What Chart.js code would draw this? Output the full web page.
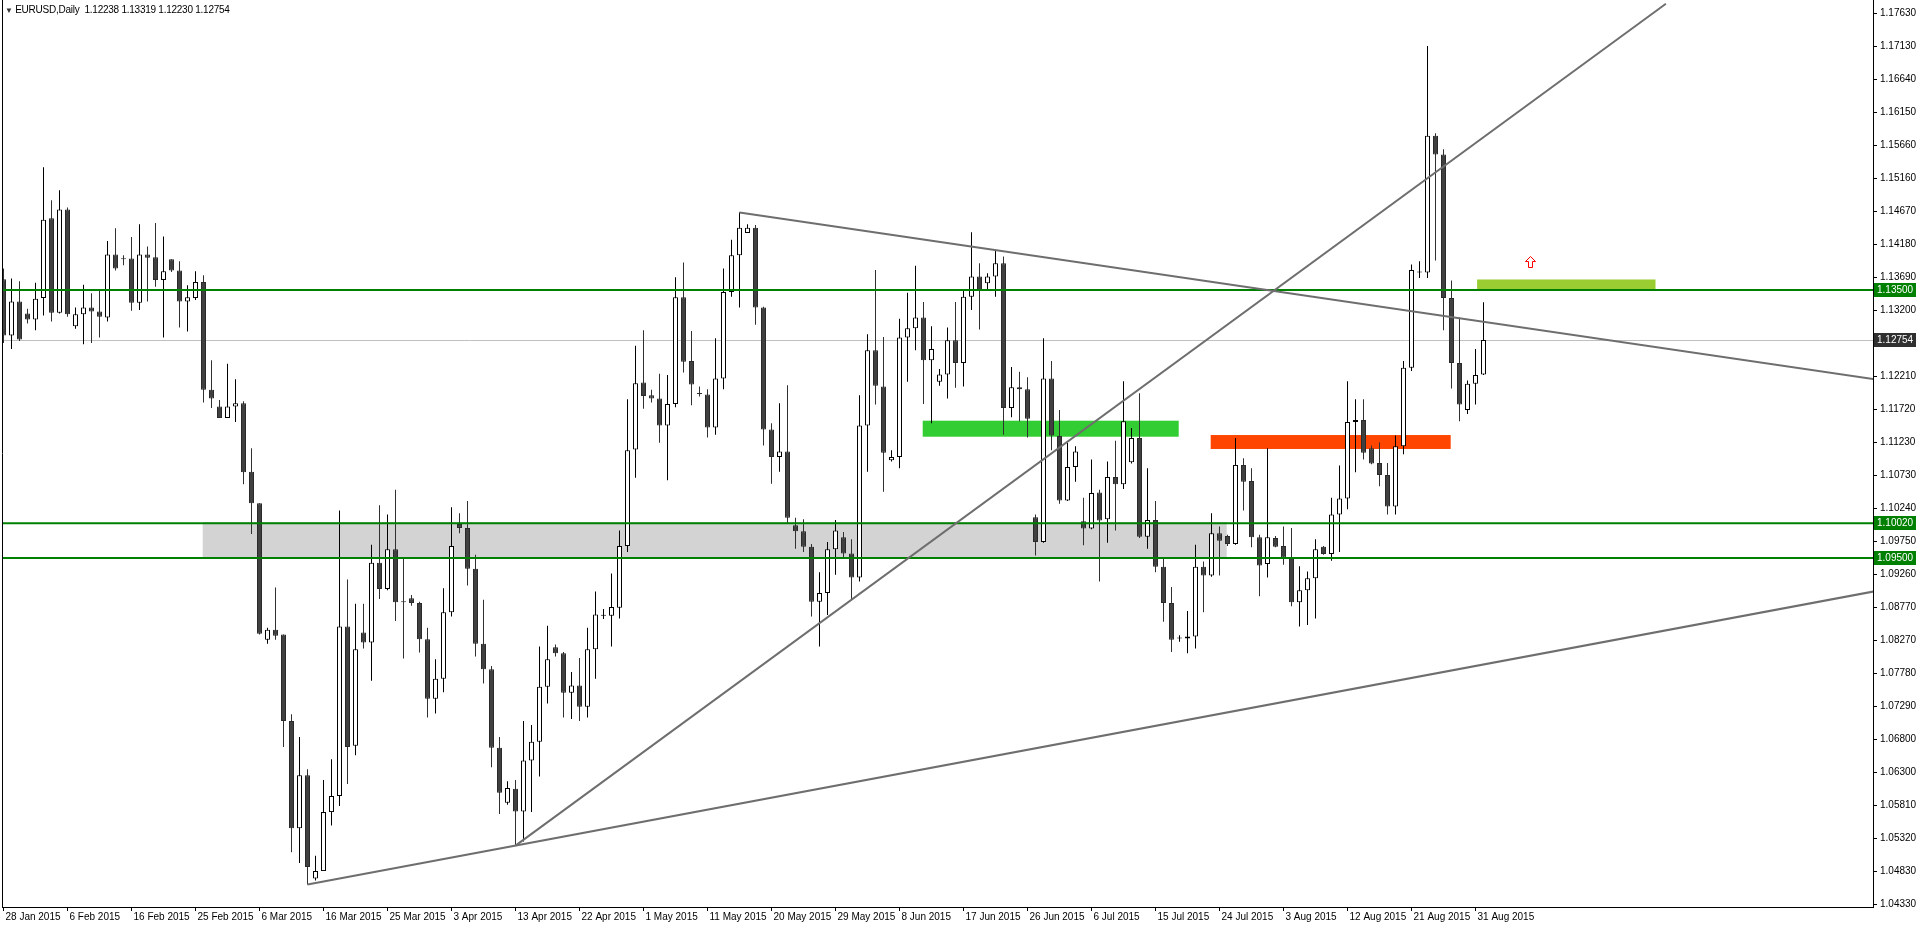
<!DOCTYPE html>
<html>
<head>
<meta charset="utf-8">
<script src="https://cdn.jsdelivr.net/npm/chart.js@4.4.0/dist/chart.umd.min.js"></script>
<style>
  html, body { margin: 0; padding: 0; background: #fff; overflow: hidden; }
  #wrap { position: relative; width: 1916px; height: 925px; }
  #title { position: absolute; left: 5px; top: 4px; font: 10px 'Liberation Sans', Arial, sans-serif; letter-spacing: -0.25px; color: #000; white-space: pre; }
  #title .tri { font-size: 8px; color: #333; }
</style>
</head>
<body>
<div id="wrap">
  <canvas id="chart" width="1916" height="925"></canvas>
  <div id="title"><span class="tri">▼</span> EURUSD,Daily  1.12238 1.13319 1.12230 1.12754</div>
</div>
<script>
// daily bars, index 0 = 28 Jan 2015 (broker has short Sunday bars)
const opens = [
  1.1366,1.1282,1.1333,1.1315,1.1306,1.1338,1.1457,1.1316,1.1470,1.1296,
  1.1314,1.1324,1.1318,1.1309,1.1403,1.1397,1.1397,1.1331,1.1403,1.1399,
  1.1365,1.1396,1.1379,1.1333,1.1338,1.1362,1.1201,1.1176,1.1159,1.1176,
  1.1181,1.1079,1.1032,1.0828,1.0843,1.0836,1.0707,1.0547,1.0626,1.0472,
  1.0483,1.0571,1.0595,1.0848,1.0670,1.0839,1.0824,1.0943,1.0904,1.0963,
  1.0885,1.0890,1.0883,1.0829,1.0740,1.0770,1.0869,1.1001,1.0995,1.0934,
  1.0822,1.0784,1.0667,1.0585,1.0606,1.0572,1.0648,1.0676,1.0758,1.0817,
  1.0808,1.0749,1.0760,1.0728,1.0814,1.0864,1.0864,1.0876,1.0968,1.1112,
  1.1212,1.1193,1.1188,1.1148,1.1180,1.1339,1.1244,1.1196,1.1194,1.1145,
  1.1218,1.1347,1.1402,1.1435,1.1443,1.1324,1.1142,1.1101,1.1109,1.0999,
  1.0990,1.0967,1.0885,1.0898,1.0963,1.0981,1.0957,1.0921,1.1148,1.1260,
  1.1206,1.1096,1.1101,1.1279,1.1293,1.1309,1.1245,1.1213,1.1224,1.1275,
  1.1241,1.1340,1.1370,1.1360,1.1370,1.1390,1.1174,1.1205,1.1202,1.1011,
  1.0974,1.1218,1.1132,1.1036,1.1086,1.1005,1.0994,1.1048,1.1008,1.1071,
  1.1060,1.1093,1.1129,1.0982,1.1007,1.0937,1.0883,1.0830,1.0830,1.0833,
  1.0937,1.0924,1.0987,1.0983,1.0971,1.1089,1.1065,1.0981,1.0941,1.0980,
  1.0968,1.0950,1.0884,1.0902,1.0920,1.0967,1.0956,1.1015,1.1039,1.1153,
  1.1156,1.1114,1.1092,1.1074,1.1027,1.1117,1.1234,1.1376,1.1376,1.1580,
  1.1552,1.1338,1.1241,1.1171,1.1210,1.12238
];
const highs = [
  1.1382,1.1367,1.1363,1.1322,1.1361,1.1533,1.1484,1.1499,1.1473,1.1324,
  1.1358,1.1345,1.1351,1.1423,1.1442,1.1402,1.1429,1.1448,1.1415,1.1450,
  1.1430,1.1396,1.1393,1.1357,1.1378,1.1372,1.1245,1.1186,1.1240,1.1217,
  1.1184,1.1114,1.1032,1.0846,1.0906,1.0836,1.0717,1.0683,1.0635,1.0506,
  1.0619,1.0650,1.1021,1.0918,1.0882,1.0882,1.0970,1.1029,1.1015,1.1052,
  1.0949,1.0895,1.0885,1.0846,1.0799,1.0905,1.1026,1.1017,1.1035,1.0955,
  1.0888,1.0789,1.0683,1.0617,1.0619,1.0707,1.0701,1.0818,1.0849,1.0821,
  1.0810,1.0780,1.0801,1.0846,1.0900,1.0874,1.0927,1.0991,1.1187,1.1267,
  1.1290,1.1201,1.1225,1.1223,1.1369,1.1391,1.1289,1.1206,1.1202,1.1278,
  1.1382,1.1425,1.1466,1.1448,1.1447,1.1325,1.1151,1.1181,1.1208,1.1010,
  1.1008,1.0971,1.0929,1.0974,1.1007,1.0989,1.0978,1.1193,1.1284,1.1380,
  1.1280,1.1111,1.1307,1.1346,1.1386,1.1332,1.1296,1.1232,1.1294,1.1332,
  1.1350,1.1436,1.1390,1.1375,1.1410,1.1400,1.1235,1.1228,1.1220,1.1015,
  1.1278,1.1244,1.1171,1.1122,1.1117,1.1040,1.1097,1.1052,1.1094,1.1125,
  1.1214,1.1144,1.1196,1.1084,1.1035,1.0949,1.0907,1.0835,1.0871,1.0970,
  1.0945,1.1017,1.0997,1.0985,1.1129,1.1099,1.1084,1.0985,1.1114,1.0983,
  1.0997,1.0995,1.0938,1.0930,1.0978,1.0968,1.1040,1.1088,1.1214,1.1187,
  1.1187,1.1118,1.1123,1.1092,1.1133,1.1244,1.1388,1.1393,1.1714,1.1584,
  1.1560,1.1364,1.1309,1.1215,1.1262,1.13319
];
const lows = [
  1.1271,1.1262,1.1274,1.1300,1.1290,1.1312,1.1303,1.1315,1.1310,1.1292,
  1.1269,1.1271,1.1279,1.1303,1.1379,1.1387,1.1319,1.1320,1.1333,1.1355,
  1.1279,1.1377,1.1294,1.1288,1.1335,1.1182,1.1174,1.1159,1.1159,1.1153,
  1.1060,1.0986,1.0836,1.0822,1.0828,1.0668,1.0511,1.0495,1.0463,1.0469,
  1.0483,1.0551,1.0580,1.0613,1.0656,1.0815,1.0767,1.0889,1.0902,1.0856,
  1.0800,1.0879,1.0809,1.0712,1.0718,1.0750,1.0863,1.0987,1.0909,1.0803,
  1.0763,1.0638,1.0568,1.0582,1.0521,1.0527,1.0571,1.0624,1.0733,1.0803,
  1.0712,1.0710,1.0707,1.0712,1.0770,1.0859,1.0818,1.0860,1.0959,1.1070,
  1.1173,1.1182,1.1122,1.1066,1.1175,1.1227,1.1178,1.1191,1.1130,1.1134,
  1.1202,1.1340,1.1324,1.1435,1.1298,1.1118,1.1061,1.1079,1.1002,1.0964,
  1.0959,1.0863,1.0818,1.0865,1.0925,1.0951,1.0888,1.0915,1.1079,1.1179,
  1.1049,1.1094,1.1084,1.1213,1.1260,1.1180,1.1151,1.1207,1.1188,1.1204,
  1.1206,1.1320,1.1291,1.1350,1.1340,1.1134,1.1160,1.1154,1.1130,1.0954,
  1.0973,1.1111,1.1031,1.1035,1.1064,1.0969,1.0993,1.0915,1.0973,1.0991,
  1.1053,1.1091,1.0980,1.0964,1.0929,1.0855,1.0810,1.0825,1.0808,1.0815,
  1.0869,1.0922,1.0924,1.0968,1.0970,1.1021,1.0966,1.0893,1.0921,1.0966,
  1.0940,1.0878,1.0848,1.0850,1.0860,1.0955,1.0946,1.0959,1.1023,1.1078,
  1.1097,1.1090,1.1057,1.1015,1.1015,1.1105,1.1229,1.1368,1.1368,1.1394,
  1.1290,1.1203,1.1154,1.1165,1.1179,1.12230
];
const closes = [
  1.1282,1.1333,1.1276,1.1306,1.1337,1.1455,1.1316,1.1470,1.1314,1.1314,
  1.1324,1.1318,1.1310,1.1403,1.1382,1.1396,1.1331,1.1403,1.1398,1.1365,
  1.1378,1.1379,1.1333,1.1339,1.1362,1.1201,1.1188,1.1159,1.1176,1.1181,
  1.1078,1.1032,1.0837,1.0843,1.0834,1.0707,1.0547,1.0626,1.0489,1.0483,
  1.0571,1.0595,1.0848,1.0668,1.0814,1.0824,1.0943,1.0904,1.0963,1.0884,
  1.0884,1.0883,1.0829,1.0740,1.0770,1.0869,1.0968,1.0995,1.0934,1.0822,
  1.0784,1.0667,1.0600,1.0607,1.0572,1.0648,1.0676,1.0758,1.0799,1.0808,
  1.0749,1.0760,1.0728,1.0814,1.0866,1.0865,1.0877,1.0968,1.1111,1.1211,
  1.1192,1.1188,1.1148,1.1180,1.1339,1.1243,1.1209,1.1195,1.1145,1.1218,
  1.1347,1.1402,1.1443,1.1443,1.1324,1.1142,1.1101,1.1109,1.1010,1.0990,
  1.0967,1.0885,1.0898,1.0963,1.0991,1.0957,1.0921,1.1148,1.1260,1.1207,
  1.1107,1.1101,1.1279,1.1293,1.1309,1.1245,1.1262,1.1224,1.1275,1.1241,
  1.1340,1.1370,1.1350,1.1370,1.1390,1.1174,1.1205,1.1202,1.1158,1.0974,
  1.1218,1.1133,1.1036,1.1086,1.1109,1.0994,1.1047,1.1006,1.1071,1.1060,
  1.1154,1.1129,1.0982,1.1007,1.0937,1.0883,1.0828,1.0831,1.0833,1.0937,
  1.0924,1.0987,1.0976,1.0971,1.1089,1.1064,1.0981,1.0939,1.0981,1.0967,
  1.0951,1.0884,1.0902,1.0920,1.0963,1.0956,1.1015,1.1039,1.1153,1.1156,
  1.1107,1.1091,1.1074,1.1027,1.1117,1.1234,1.1380,1.1377,1.1580,1.1552,
  1.1338,1.1241,1.1179,1.1210,1.1223,1.12754
];

// time axis labels, one every 8 bars
const dateTickBars = [0,8,16,24,32,40,48,56,64,72,80,88,96,104,112,120,128,136,144,152,160,168,176,184];
const dateLabels = ['28 Jan 2015','6 Feb 2015','16 Feb 2015','25 Feb 2015','6 Mar 2015','16 Mar 2015',
  '25 Mar 2015','3 Apr 2015','13 Apr 2015','22 Apr 2015','1 May 2015','11 May 2015','20 May 2015',
  '29 May 2015','8 Jun 2015','17 Jun 2015','26 Jun 2015','6 Jul 2015','15 Jul 2015','24 Jul 2015',
  '3 Aug 2015','12 Aug 2015','21 Aug 2015','31 Aug 2015'];

// price axis
const priceTicks = [1.17630,1.17130,1.16640,1.16150,1.15660,1.15160,1.14670,1.14180,1.13690,1.13200,
  1.12710,1.12210,1.11720,1.11230,1.10730,1.10240,1.09750,1.09260,1.08770,1.08270,1.07780,1.07290,
  1.06800,1.06300,1.05810,1.05320,1.04830,1.04330];

// drawn objects
const levels = [1.13500, 1.10020, 1.09500];
const bidPrice = 1.12754;
const zoneStart = [24.9, 114.9, 150.9, 184.2];
const zoneEnd = [152.9, 146.9, 180.9, 206.5];
const zoneTop = [1.10035, 1.11550, 1.11336, 1.13657];
const zoneBottom = [1.09500, 1.11311, 1.11128, 1.13500];
const trendX1 = [38, 64, 92];
const trendY1 = [1.0463, 1.0521, 1.14655];
const trendX2 = [233.7, 207.8, 233.7];
const trendY2 = [1.0900, 1.17772, 1.12173];
const arrowBar = 190.8;
const arrowPrice = 1.13925;

const X_MIN = -0.1875, X_MAX = 233.6875;
const Y_MIN = 1.04294, Y_MAX = 1.17827;
const FONT = "'Liberation Sans', Arial, sans-serif";
const zoneColors = ['#d3d3d3', '#32cd32', '#ff4500', '#9acd32'];

const isUp = i => closes[i] >= opens[i];

const overlay = {
  id: 'overlay',
  beforeDatasetsDraw(chart) {
    const { ctx, chartArea: a, scales: { x, y } } = chart;
    ctx.save();
    ctx.beginPath();
    ctx.rect(a.left, a.top, a.right - a.left, a.bottom - a.top);
    ctx.clip();
    zoneStart.forEach((s, k) => {
      const x1 = x.getPixelForValue(s), x2 = x.getPixelForValue(zoneEnd[k]);
      const y1 = y.getPixelForValue(zoneTop[k]), y2 = y.getPixelForValue(zoneBottom[k]);
      ctx.fillStyle = zoneColors[k];
      ctx.fillRect(x1, y1, x2 - x1, y2 - y1);
    });
    // bid line
    const by = Math.round(y.getPixelForValue(bidPrice)) + 0.5;
    ctx.strokeStyle = '#c0c0c0';
    ctx.lineWidth = 1;
    ctx.beginPath();
    ctx.moveTo(a.left, by);
    ctx.lineTo(a.right, by);
    ctx.stroke();
    ctx.restore();
  },
  afterDraw(chart) {
    const { ctx, chartArea: a, scales: { x, y } } = chart;
    ctx.save();
    // left frame
    ctx.strokeStyle = '#000';
    ctx.lineWidth = 1;
    ctx.beginPath();
    ctx.moveTo(a.left + 0.5, a.top);
    ctx.lineTo(a.left + 0.5, a.bottom);
    ctx.stroke();

    // up arrow
    const cx = Math.round(x.getPixelForValue(arrowBar)) + 0.5;
    const cy = Math.round(y.getPixelForValue(arrowPrice)) + 0.5;
    ctx.strokeStyle = '#ff0000';
    ctx.beginPath();
    ctx.moveTo(cx, cy - 6);
    ctx.lineTo(cx + 5, cy - 1);
    ctx.lineTo(cx + 2, cy - 1);
    ctx.lineTo(cx + 2, cy + 5);
    ctx.lineTo(cx - 2, cy + 5);
    ctx.lineTo(cx - 2, cy - 1);
    ctx.lineTo(cx - 5, cy - 1);
    ctx.closePath();
    ctx.stroke();

    // price labels on the axis
    ctx.font = '10px ' + FONT;
    ctx.textBaseline = 'middle';
    const tag = (v, bg) => {
      const py = Math.round(y.getPixelForValue(v));
      ctx.fillStyle = bg;
      ctx.fillRect(a.right + 1, py - 7, chart.width - a.right - 1, 14);
      ctx.fillStyle = '#fff';
      ctx.fillText(v.toFixed(5), a.right + 4, py);
    };
    levels.forEach(v => tag(v, '#008000'));
    tag(bidPrice, '#303030');
    ctx.restore();
  }
};

const lineSets = [];
trendX1.forEach((x1, k) => {
  lineSets.push({
    type: 'line',
    data: [{ x: x1, y: trendY1[k] }, { x: trendX2[k], y: trendY2[k] }],
    borderColor: '#6e6e6e', borderWidth: 2, pointRadius: 0, fill: false, order: 0
  });
});
levels.forEach(v => {
  lineSets.push({
    type: 'line',
    data: [{ x: X_MIN, y: v }, { x: X_MAX, y: v }],
    borderColor: '#008000', borderWidth: 2, pointRadius: 0, fill: false, order: 0
  });
});

new Chart(document.getElementById('chart'), {
  type: 'bar',
  data: {
    datasets: [
      ...lineSets,
      {
        // candle bodies
        data: opens.map((o, i) => ({ x: i, y: [o, closes[i]] })),
        backgroundColor: c => isUp(c.dataIndex) ? '#ffffff' : '#404040',
        borderColor: c => isUp(c.dataIndex) ? '#000000' : '#2a2a2a',
        borderWidth: 1,
        borderSkipped: false,
        barThickness: 5,
        minBarLength: 1,
        grouped: false,
        inflateAmount: 0,
        order: 1
      },
      {
        // wicks
        data: lows.map((l, i) => ({ x: i, y: [l, highs[i]] })),
        backgroundColor: c => isUp(c.dataIndex) ? '#000000' : '#303030',
        borderWidth: 0,
        barThickness: 1,
        grouped: false,
        inflateAmount: 0,
        order: 2
      }
    ]
  },
  options: {
    responsive: false,
    animation: false,
    devicePixelRatio: 1,
    layout: { padding: { left: 2, top: 0, right: 0, bottom: 0 } },
    plugins: { legend: { display: false }, tooltip: { enabled: false } },
    scales: {
      x: {
        type: 'linear', min: X_MIN, max: X_MAX, offset: false,
        grid: { display: true, drawOnChartArea: false, drawTicks: true, tickLength: 4, color: '#000', offset: false },
        border: { display: true, color: '#000', width: 1 },
        ticks: {
          autoSkip: false, maxRotation: 0, minRotation: 0, align: 'start', padding: 0, labelOffset: 2,
          color: '#000', font: { family: FONT, size: 10 },
          callback: (v, i) => dateLabels[i]
        },
        afterBuildTicks: s => { s.ticks = dateTickBars.map(v => ({ value: v })); },
        afterFit: s => { s.height = 18; s.paddingLeft = 0; s.paddingRight = 0; }
      },
      y: {
        position: 'right', min: Y_MIN, max: Y_MAX,
        grid: { display: true, drawOnChartArea: false, drawTicks: true, tickLength: 4, color: '#000' },
        border: { display: true, color: '#000', width: 1 },
        ticks: {
          autoSkip: false, padding: 3, color: '#000', font: { family: FONT, size: 10 },
          callback: v => v.toFixed(5)
        },
        afterBuildTicks: s => { s.ticks = priceTicks.map(v => ({ value: v })); },
        afterFit: s => { s.width = 43; s.paddingTop = 0; s.paddingBottom = 0; }
      }
    }
  },
  plugins: [overlay]
});
</script>
</body>
</html>
